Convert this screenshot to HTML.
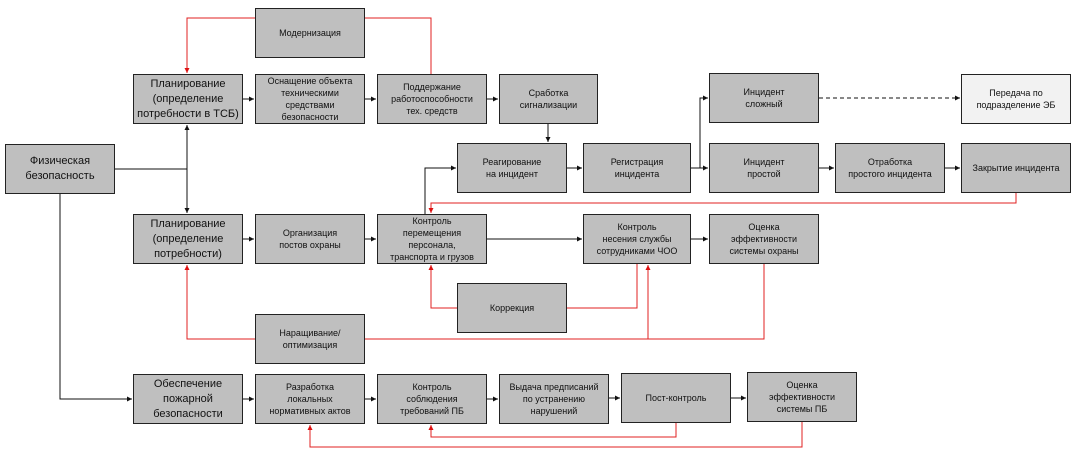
<!DOCTYPE html>
<html><head><meta charset="utf-8"><style>
html,body{margin:0;padding:0;background:#fff;}
body{width:1082px;height:459px;position:relative;overflow:hidden;font-family:"Liberation Sans",sans-serif;}
.b{position:absolute;background:#bfbfbf;border:1px solid #222;box-sizing:border-box;display:flex;align-items:center;justify-content:center;text-align:center;font-size:9px;line-height:12px;color:#111;}
.L{font-size:11px;line-height:15px;}
svg{position:absolute;left:0;top:0;}
</style></head><body>
<svg width="1082" height="459">
<defs>
<marker id="a" markerWidth="6" markerHeight="6" refX="5" refY="3" orient="auto"><path d="M0,0.5 L5,3 L0,5.5z" fill="#111"/></marker>
<marker id="r" markerWidth="6" markerHeight="6" refX="5" refY="3" orient="auto"><path d="M0,0.5 L5,3 L0,5.5z" fill="#d11"/></marker>
</defs>
<g stroke="#111" stroke-width="1" fill="none">
<path d="M115 169 H187"/>
<path d="M187 169 V125" marker-end="url(#a)"/>
<path d="M187 169 V213" marker-end="url(#a)"/>
<path d="M60 194 V399 H132" marker-end="url(#a)"/>
<path d="M243 99 H254" marker-end="url(#a)"/>
<path d="M365 99 H376" marker-end="url(#a)"/>
<path d="M487 99 H498" marker-end="url(#a)"/>
<path d="M548 124 V142" marker-end="url(#a)"/>
<path d="M567 168 H582" marker-end="url(#a)"/>
<path d="M691 168 H708" marker-end="url(#a)"/>
<path d="M700 168 V98 H708" marker-end="url(#a)"/>
<path d="M819 168 H834" marker-end="url(#a)"/>
<path d="M945 168 H960" marker-end="url(#a)"/>
<path d="M819 98 H960" stroke-dasharray="4,3" marker-end="url(#a)"/>
<path d="M425 214 V168 H456" marker-end="url(#a)"/>
<path d="M243 239 H254" marker-end="url(#a)"/>
<path d="M365 239 H376" marker-end="url(#a)"/>
<path d="M487 239 H582" marker-end="url(#a)"/>
<path d="M691 239 H708" marker-end="url(#a)"/>
<path d="M243 399 H254" marker-end="url(#a)"/>
<path d="M365 399 H376" marker-end="url(#a)"/>
<path d="M487 399 H498" marker-end="url(#a)"/>
<path d="M609 398 H620" marker-end="url(#a)"/>
<path d="M731 398 H746" marker-end="url(#a)"/>
</g>
<g stroke="#e02020" stroke-width="1" fill="none">
<path d="M255 18 H187 V73" marker-end="url(#r)"/>
<path d="M365 18 H431 V74"/>
<path d="M1016 193 V203 H431 V213" marker-end="url(#r)"/>
<path d="M457 308 H431 V265" marker-end="url(#r)"/>
<path d="M567 308 H637 V264"/>
<path d="M255 339 H187 V265" marker-end="url(#r)"/>
<path d="M365 339 H764 V264"/>
<path d="M648 339 V265" marker-end="url(#r)"/>
<path d="M676 423 V437 H431 V425" marker-end="url(#r)"/>
<path d="M802 422 V447 H310 V425" marker-end="url(#r)"/>
</g>
</svg>
<div class="b" style="left:255px;top:8px;width:110px;height:50px">Модернизация</div>
<div class="b L" style="left:133px;top:74px;width:110px;height:50px">Планирование<br>(определение<br>потребности в ТСБ)</div>
<div class="b" style="left:255px;top:74px;width:110px;height:50px">Оснащение объекта<br>техническими<br>средствами<br>безопасности</div>
<div class="b" style="left:377px;top:74px;width:110px;height:50px">Поддержание<br>работоспособности<br>тех. средств</div>
<div class="b" style="left:499px;top:74px;width:99px;height:50px">Сработка<br>сигнализации</div>
<div class="b" style="left:709px;top:73px;width:110px;height:50px">Инцидент<br>сложный</div>
<div class="b" style="left:961px;top:74px;width:110px;height:50px;background:#f2f2f2">Передача по<br>подразделение ЭБ</div>
<div class="b L" style="left:5px;top:144px;width:110px;height:50px">Физическая<br>безопасность</div>
<div class="b" style="left:457px;top:143px;width:110px;height:50px">Реагирование<br>на инцидент</div>
<div class="b" style="left:583px;top:143px;width:108px;height:50px">Регистрация<br>инцидента</div>
<div class="b" style="left:709px;top:143px;width:110px;height:50px">Инцидент<br>простой</div>
<div class="b" style="left:835px;top:143px;width:110px;height:50px">Отработка<br>простого инцидента</div>
<div class="b" style="left:961px;top:143px;width:110px;height:50px">Закрытие инцидента</div>
<div class="b L" style="left:133px;top:214px;width:110px;height:50px">Планирование<br>(определение<br>потребности)</div>
<div class="b" style="left:255px;top:214px;width:110px;height:50px">Организация<br>постов охраны</div>
<div class="b" style="left:377px;top:214px;width:110px;height:50px">Контроль<br>перемещения<br>персонала,<br>транспорта и грузов</div>
<div class="b" style="left:583px;top:214px;width:108px;height:50px">Контроль<br>несения службы<br>сотрудниками ЧОО</div>
<div class="b" style="left:709px;top:214px;width:110px;height:50px">Оценка<br>эффективности<br>системы охраны</div>
<div class="b" style="left:457px;top:283px;width:110px;height:50px">Коррекция</div>
<div class="b" style="left:255px;top:314px;width:110px;height:50px">Наращивание/<br>оптимизация</div>
<div class="b L" style="left:133px;top:374px;width:110px;height:50px">Обеспечение<br>пожарной<br>безопасности</div>
<div class="b" style="left:255px;top:374px;width:110px;height:50px">Разработка<br>локальных<br>нормативных актов</div>
<div class="b" style="left:377px;top:374px;width:110px;height:50px">Контроль<br>соблюдения<br>требований ПБ</div>
<div class="b" style="left:499px;top:374px;width:110px;height:50px">Выдача предписаний<br>по устранению<br>нарушений</div>
<div class="b" style="left:621px;top:373px;width:110px;height:50px">Пост-контроль</div>
<div class="b" style="left:747px;top:372px;width:110px;height:50px">Оценка<br>эффективности<br>системы ПБ</div>
</body></html>
